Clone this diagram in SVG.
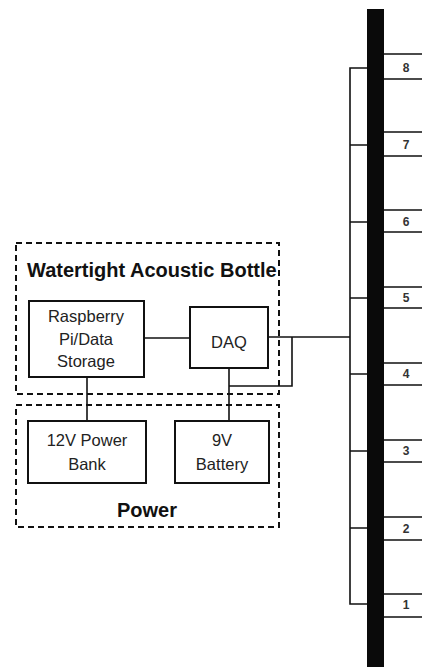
<svg xmlns="http://www.w3.org/2000/svg" width="422" height="667" viewBox="0 0 422 667">
<style>
.box{fill:#fff;stroke:#111;stroke-width:2}
.dash{fill:none;stroke:#111;stroke-width:2;stroke-dasharray:6 4}
.wire{fill:none;stroke:#111;stroke-width:1.6}
.t{font-family:"Liberation Sans",Arial,sans-serif;font-size:16.5px;fill:#222;text-anchor:middle}
.title{font-family:"Liberation Sans",Arial,sans-serif;font-size:20px;font-weight:bold;fill:#111}
.num{font-family:"Liberation Sans",Arial,sans-serif;font-size:12px;font-weight:bold;fill:#333;text-anchor:middle}
.sl{fill:none;stroke:#111;stroke-width:1.4}
</style>
<rect width="422" height="667" fill="#fff"/>
<g id="watertight">
<rect class="dash" x="16" y="243" width="263" height="151"/>
<text class="title" x="27" y="277">Watertight Acoustic Bottle</text>
</g>
<g id="power">
<rect class="dash" x="16" y="405" width="263" height="122"/>
<text class="title" x="147" y="517" text-anchor="middle">Power</text>
</g>
<g id="connectors">
<path class="wire" d="M144 338H190"/>
<path class="wire" d="M268 337H350"/>
<path class="wire" d="M292 337V386H229"/>
<path class="wire" d="M229 368V421"/>
<path class="wire" d="M87 377V421"/>
<path class="wire" d="M367 68H350V604H367"/>
<path class="wire" d="M350 145H367M350 222H367M350 298H367M350 374H367M350 451H367M350 528H367"/>
</g>
<g id="raspberry">
<rect class="box" x="29" y="301" width="115" height="76"/>
<text class="t" x="86" y="322">Raspberry</text>
<text class="t" x="86" y="345">Pi/Data</text>
<text class="t" x="86" y="367">Storage</text>
</g>
<g id="daq">
<rect class="box" x="190" y="307" width="78" height="61"/>
<text class="t" x="229" y="348">DAQ</text>
</g>
<g id="powerbank">
<rect class="box" x="28" y="421" width="118" height="62"/>
<text class="t" x="87" y="446">12V Power</text>
<text class="t" x="87" y="470">Bank</text>
</g>
<g id="battery">
<rect class="box" x="175" y="421" width="94" height="62"/>
<text class="t" x="222" y="446">9V</text>
<text class="t" x="222" y="470">Battery</text>
</g>
<g id="array">
<rect x="367" y="9" width="17" height="658" fill="#0a0a0a"/>
</g>
<g id="sensor8"><path class="sl" d="M384 54H422M384 79H422"/><text class="num" x="406" y="72">8</text></g>
<g id="sensor7"><path class="sl" d="M384 132H422M384 156H422"/><text class="num" x="406" y="149">7</text></g>
<g id="sensor6"><path class="sl" d="M384 210H422M384 232H422"/><text class="num" x="406" y="226">6</text></g>
<g id="sensor5"><path class="sl" d="M384 287H422M384 308H422"/><text class="num" x="406" y="302">5</text></g>
<g id="sensor4"><path class="sl" d="M384 363H422M384 385H422"/><text class="num" x="406" y="378">4</text></g>
<g id="sensor3"><path class="sl" d="M384 440H422M384 462H422"/><text class="num" x="406" y="455">3</text></g>
<g id="sensor2"><path class="sl" d="M384 517H422M384 540H422"/><text class="num" x="406" y="533">2</text></g>
<g id="sensor1"><path class="sl" d="M384 594H422M384 617H422"/><text class="num" x="406" y="609">1</text></g>
</svg>
